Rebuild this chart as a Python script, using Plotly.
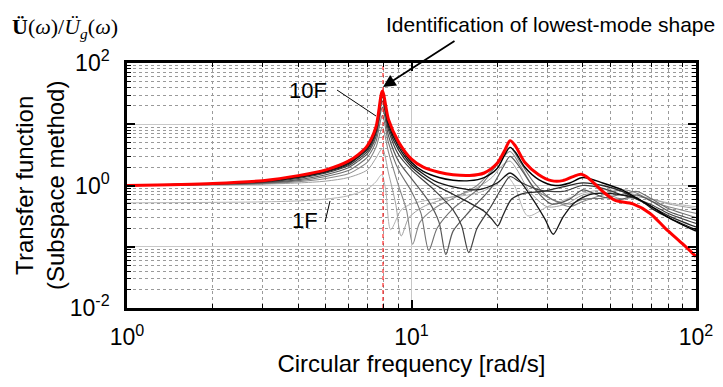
import plotly.graph_objects as go

# ---------------- data ----------------
FREQ_1F = [1, 2, 3, 4, 5, 6, 7, 7.5, 7.85, 8.1, 8.45, 9.2, 10, 12, 14, 17, 20, 21.5, 23, 25.6, 30, 35, 40, 47, 55, 62, 70, 80, 100]
TF_1F = [0.52, 0.53, 0.54, 0.56, 0.6, 0.68, 0.88, 1.15, 1.5, 0.9, 0.19, 0.4, 0.5, 0.6, 0.65, 0.75, 1.05, 1.45, 1.0, 0.32, 0.45, 0.6, 0.75, 0.85, 0.8, 0.7, 0.6, 0.52, 0.45]

FREQ_2F = [1, 2, 3, 4, 5, 6, 7, 7.5, 7.9, 8.3, 8.8, 9.2, 9.8, 11, 13, 16, 19, 21, 22.2, 23.5, 26, 30, 35, 40, 47, 55, 62, 70, 80, 100]
TF_2F = [1.0, 1.02, 1.05, 1.1, 1.18, 1.35, 1.8, 2.8, 4.0, 1.6, 0.5, 0.15, 0.3, 0.45, 0.6, 0.8, 1.3, 2.2, 2.5, 1.8, 0.8, 0.45, 0.5, 0.7, 0.75, 0.6, 0.65, 0.6, 0.5, 0.42]

FREQ_3F = [1, 2, 3, 4, 5, 6, 6.5, 7, 7.5, 7.9, 8.3, 9, 9.6, 10.1, 10.7, 12, 14, 17, 20, 22.2, 24, 27, 31, 36, 40, 47, 55, 62, 70, 80, 100]
TF_3F = [1.0, 1.03, 1.07, 1.15, 1.3, 1.55, 1.9, 2.4, 4.2, 9, 3.5, 1.0, 0.4, 0.11, 0.25, 0.42, 0.62, 1.0, 2.2, 3.6, 2.2, 0.9, 0.6, 0.45, 0.55, 0.7, 0.85, 0.75, 0.55, 0.45, 0.35]

FREQ_4F = [1, 2, 3, 4, 5, 6, 6.5, 7, 7.5, 7.9, 8.3, 9, 10, 10.8, 11.5, 12.3, 14, 17, 20, 22.2, 24, 27, 31, 36, 40, 47, 55, 62, 70, 80, 100]
TF_4F = [1.0, 1.04, 1.09, 1.2, 1.4, 1.75, 2.2, 2.9, 5.2, 14, 5, 1.8, 0.8, 0.35, 0.087, 0.2, 0.42, 0.85, 2.2, 4.2, 2.5, 1.1, 0.6, 0.5, 0.6, 0.62, 0.72, 0.8, 0.6, 0.42, 0.3]

FREQ_5F = [1, 2, 3, 4, 5, 6, 6.5, 7, 7.5, 7.9, 8.3, 9, 10, 11.5, 12.5, 13.2, 14, 16, 19, 21, 22.2, 24, 27, 31, 36, 40, 47, 55, 62, 70, 80, 100]
TF_5F = [1.0, 1.05, 1.11, 1.25, 1.5, 1.95, 2.5, 3.3, 6.2, 19, 6.5, 2.5, 1.3, 0.55, 0.25, 0.075, 0.18, 0.38, 0.9, 2.0, 3.0, 2.0, 0.9, 0.5, 0.6, 0.85, 0.65, 0.6, 0.7, 0.55, 0.38, 0.27]

FREQ_6F = [1, 2, 3, 4, 5, 6, 6.5, 7, 7.5, 7.9, 8.3, 9, 10, 12, 14, 15, 15.9, 17, 19, 21, 22.2, 24, 28, 34, 40, 47, 55, 62, 70, 80, 100]
TF_6F = [1.0, 1.06, 1.13, 1.3, 1.6, 2.1, 2.7, 3.6, 7.0, 24, 8, 3.2, 1.8, 0.85, 0.4, 0.22, 0.08, 0.2, 0.45, 1.0, 1.4, 1.15, 0.85, 0.8, 1.0, 0.9, 0.7, 0.6, 0.48, 0.35, 0.24]

FREQ_7F = [1, 2, 3, 4, 5, 6, 6.5, 7, 7.5, 7.9, 8.3, 9, 10, 12, 14, 16, 18, 19.2, 20.1, 21, 22.5, 25, 29, 34, 40, 47, 55, 62, 70, 80, 100]
TF_7F = [1.0, 1.07, 1.15, 1.35, 1.65, 2.2, 2.9, 3.9, 7.5, 28, 9.0, 3.8, 2.0, 1.05, 0.72, 0.52, 0.38, 0.28, 0.22, 0.33, 0.6, 0.75, 0.8, 0.95, 1.1, 1.0, 0.8, 0.6, 0.45, 0.32, 0.21]

FREQ_8F = [1, 2, 3, 4, 5, 6, 6.5, 7, 7.5, 7.9, 8.3, 9, 10, 12, 14, 17, 20, 22.2, 24, 27, 29.5, 31.5, 34, 37, 42, 47, 55, 62, 70, 80, 100]
TF_8F = [1.0, 1.07, 1.17, 1.38, 1.7, 2.3, 3.0, 4.1, 8.0, 31, 10, 4.3, 2.2, 1.2, 0.95, 0.85, 1.1, 1.6, 1.2, 0.55, 0.28, 0.16, 0.3, 0.5, 0.7, 0.75, 0.7, 0.62, 0.42, 0.3, 0.19]

FREQ_9F = [1, 2, 3, 4, 5, 6, 6.5, 7, 7.5, 7.9, 8.3, 9, 10, 11, 12.5, 14, 16, 18, 20, 21.3, 22.2, 23.2, 25, 28, 32, 36, 40, 47, 55, 62, 70, 80, 100]
TF_9F = [1.0, 1.07, 1.18, 1.4, 1.75, 2.4, 3.1, 4.3, 8.5, 33, 11, 4.8, 2.4, 1.7, 1.35, 1.22, 1.2, 1.35, 1.9, 3.2, 4.2, 3.5, 2.0, 1.25, 1.0, 1.1, 1.35, 1.1, 0.85, 0.62, 0.45, 0.3, 0.18]

FREQ_10F = [1, 2, 3, 4, 5, 6, 6.5, 7, 7.5, 7.9, 8.3, 9, 10, 11, 12.5, 14, 16, 18, 20, 21.3, 22.2, 23.2, 25, 28, 31, 34, 37, 39.5, 42, 47, 52, 60, 69, 78, 90, 100]
TF_10F = [1.0, 1.08, 1.2, 1.45, 1.8, 2.5, 3.2, 4.5, 9, 35, 12, 5.2, 2.7, 2.0, 1.65, 1.5, 1.46, 1.6, 2.3, 3.8, 5.4, 4.4, 2.4, 1.5, 1.2, 1.2, 1.4, 1.52, 1.3, 0.8, 0.57, 0.5, 0.35, 0.2, 0.11, 0.069]

FIRST_MODE_FREQ = 7.94
Y_LIMITS = [0.01, 100]

X_TICKS = [1, 10, 100]
X_TICKTEXT = ["10<sup>0</sup>", "10<sup>1</sup>", "10<sup>2</sup>"]
Y_TICKS = [0.01, 0.1, 1, 10, 100]
Y_TICKTEXT = ["10<sup>-2</sup>", " ", "10<sup>0</sup>", " ", "10<sup>2</sup>"]

FLOORS = [
    ("1F", FREQ_1F, TF_1F, "#b4b4b4", 1.0),
    ("2F", FREQ_2F, TF_2F, "#a0a0a0", 1.0),
    ("3F", FREQ_3F, TF_3F, "#888888", 1.1),
    ("4F", FREQ_4F, TF_4F, "#707070", 1.1),
    ("5F", FREQ_5F, TF_5F, "#585858", 1.2),
    ("6F", FREQ_6F, TF_6F, "#404040", 1.2),
    ("7F", FREQ_7F, TF_7F, "#282828", 1.3),
    ("8F", FREQ_8F, TF_8F, "#141414", 1.3),
    ("9F", FREQ_9F, TF_9F, "#000000", 1.4),
]

W, H = 723, 387
ML, MR, MT, MB = 119, 35, 55, 87
PW, PH = W - ML - MR, H - MT - MB


def px(xp):
    return (xp - ML) / PW


def py(yp):
    return (H - MB - yp) / PH


FONT = "Liberation Sans, Arial, sans-serif"

fig = go.Figure()
for name, fx, ty, col, lw in FLOORS:
    fig.add_trace(go.Scatter(x=fx, y=ty, mode="lines", name=name,
                             line=dict(color=col, width=lw, shape="spline", smoothing=0.8),
                             hoverinfo="skip", showlegend=False))

fig.add_trace(go.Scatter(x=[FIRST_MODE_FREQ, FIRST_MODE_FREQ], y=Y_LIMITS, mode="lines",
                         line=dict(color="#ff0000", width=1, dash="4px,3px"),
                         hoverinfo="skip", showlegend=False))

fig.add_trace(go.Scatter(x=FREQ_10F, y=TF_10F, mode="lines", name="10F",
                         line=dict(color="#ff0000", width=3, shape="spline", smoothing=0.8),
                         hoverinfo="skip", showlegend=False))

grid_minor = dict(dtick="D1", ticks="inside", ticklen=4, tickcolor="black", tickwidth=1,
                  showgrid=True, gridcolor="#9a9a9a", griddash="dot", gridwidth=1)

fig.update_xaxes(type="log", range=[0, 2], tickmode="array", tickvals=X_TICKS, ticktext=X_TICKTEXT,
                 ticks="inside", ticklen=8, tickwidth=1.5, tickcolor="black",
                 showline=True, linecolor="black", linewidth=2.5, mirror="ticks",
                 showgrid=True, gridcolor="#c8c8c8", gridwidth=1,
                 minor=grid_minor, ticklabelstandoff=7,
                 tickfont=dict(family=FONT, size=23, color="black"),
                 title=dict(text="Circular frequency [rad/s]", font=dict(family=FONT, size=24, color="black"),
                            standoff=4),
                 zeroline=False)
fig.update_yaxes(type="log", range=[-2, 2], tickmode="array", tickvals=Y_TICKS, ticktext=Y_TICKTEXT,
                 ticks="inside", ticklen=8, tickwidth=1.5, tickcolor="black",
                 showline=True, linecolor="black", linewidth=2.5, mirror="ticks",
                 showgrid=True, gridcolor="#c8c8c8", gridwidth=1,
                 minor=grid_minor, ticklabelstandoff=10,
                 tickfont=dict(family=FONT, size=23, color="black"),
                 zeroline=False)

ann = []
ann.append(dict(xref="paper", yref="paper", x=px(32), y=py(178), text="Transfer function<br>(Subspace method)",
                textangle=-90, showarrow=False, font=dict(family=FONT, size=24, color="black"),
                xanchor="center", yanchor="middle", align="center"))
ann.append(dict(xref="paper", yref="paper", x=px(57), y=py(20),
                text="<b>Ü</b>(<i>ω</i>)/<i>Ü</i><sub><i>g</i></sub>(<i>ω</i>)",
                showarrow=False, font=dict(family="Liberation Serif, serif", size=22, color="black"),
                xanchor="center", yanchor="middle"))
ann.append(dict(xref="paper", yref="paper", x=px(542), y=py(17), text="Identification of lowest-mode shape",
                showarrow=False, font=dict(family=FONT, size=21, color="black"),
                xanchor="center", yanchor="middle"))
ann.append(dict(xref="paper", yref="paper", x=px(375), y=py(79), ax=73, ay=-47, text="",
                showarrow=True, arrowhead=2, arrowsize=1.4, arrowwidth=1.8, arrowcolor="black"))
ann.append(dict(xref="paper", yref="paper", x=px(300), y=py(82), text="10F",
                showarrow=False, font=dict(family=FONT, size=22, color="black"),
                xanchor="center", yanchor="middle"))
ann.append(dict(xref="paper", yref="paper", x=px(297), y=py(212), text="1F",
                showarrow=False, font=dict(family=FONT, size=22, color="black"),
                xanchor="center", yanchor="middle"))

shapes = [
    dict(type="line", xref="paper", yref="paper", x0=px(329), y0=py(82), x1=px(368), y1=py(108),
         line=dict(color="black", width=1)),
    dict(type="line", xref="paper", yref="paper", x0=px(317), y0=py(214), x1=px(322), y1=py(193),
         line=dict(color="black", width=1)),
]

fig.update_layout(width=W, height=H, margin=dict(l=ML, r=MR, t=MT, b=MB),
                  paper_bgcolor="white", plot_bgcolor="white",
                  annotations=ann, shapes=shapes, showlegend=False,
                  font=dict(family=FONT, color="black"))

fig.write_html("out.html")
